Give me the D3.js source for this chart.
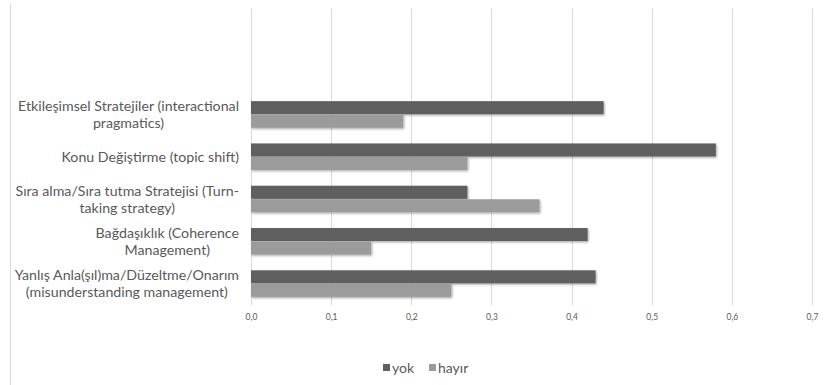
<!DOCTYPE html>
<html>
<head>
<meta charset="utf-8">
<script src="https://cdn.jsdelivr.net/npm/d3@7"></script>
<style>
  html, body { margin: 0; padding: 0; background: #fff; }
  svg { display: block; }
</style>
</head>
<body>
<svg id="chart" width="832" height="385"></svg>
<script>
// Categories (top to bottom) with their wrapped label lines
const categories = [
  "Etkileşimsel Stratejiler (interactional pragmatics)",
  "Konu Değiştirme (topic shift)",
  "Sıra alma/Sıra tutma Stratejisi (Turn-taking strategy)",
  "Bağdaşıklık (Coherence Management)",
  "Yanlış Anla(şıl)ma/Düzeltme/Onarım (misunderstanding management)"
];
const labelLines = [
  ["Etkileşimsel Stratejiler (interactional", "pragmatics)"],
  ["Konu Değiştirme (topic shift)"],
  ["Sıra alma/Sıra tutma Stratejisi (Turn-", "taking strategy)"],
  ["Bağdaşıklık (Coherence", "Management)"],
  ["Yanlış Anla(şıl)ma/Düzeltme/Onarım", "(misunderstanding management)"]
];
const seriesNames = ["yok", "hayır"];
const yokValues   = [0.44, 0.58, 0.27, 0.42, 0.43];
const hayirValues = [0.19, 0.27, 0.36, 0.15, 0.25];
const tickValues  = [0, 0.1, 0.2, 0.3, 0.4, 0.5, 0.6, 0.7];
const seriesColors = ["#5f5f5f", "#9b9b9b"];

const svg = d3.select("#chart");
const textColor = "#595959";
const font = "Lato, 'Open Sans', sans-serif";

// Chart frame (left edge visible)
svg.append("line")
  .attr("x1", 10.5).attr("x2", 10.5)
  .attr("y1", 3).attr("y2", 385)
  .attr("stroke", "#d9d9d9").attr("stroke-width", 1);

const plotTop = 9, plotBottom = 305;
const x = d3.scaleLinear().domain([0, 0.7]).range([251, 812]);

// Seven slots share the plot height; the five categories fill the lower ones
const slot = (plotBottom - plotTop) / 7;
const y = d3.scaleBand()
  .domain(categories)
  .range([plotTop + 2 * slot, plotBottom])
  .paddingInner(0.36)
  .paddingOuter(0.18);
const ySeries = d3.scaleBand().domain(seriesNames).range([0, y.bandwidth()]);

// Shadow under the bars
const defs = svg.append("defs");
const f = defs.append("filter").attr("id", "shadow")
  .attr("x", "-5%").attr("y", "-30%").attr("width", "110%").attr("height", "170%");
f.append("feDropShadow")
  .attr("dx", 1).attr("dy", 1.2).attr("stdDeviation", 0.9)
  .attr("flood-color", "#000").attr("flood-opacity", 0.35);

// Vertical gridlines
svg.append("g")
  .selectAll("line")
  .data(tickValues)
  .join("line")
  .attr("x1", d => Math.round(x(d)) + 0.5)
  .attr("x2", d => Math.round(x(d)) + 0.5)
  .attr("y1", plotTop).attr("y2", plotBottom)
  .attr("stroke", "#d9d9d9").attr("stroke-width", 1);

// Bars
const rows = categories.map((c, i) => ({ cat: c, values: [yokValues[i], hayirValues[i]] }));
const groups = svg.append("g").selectAll("g")
  .data(rows)
  .join("g")
  .attr("transform", d => `translate(0,${y(d.cat)})`);
groups.selectAll("rect")
  .data(d => d.values.map((v, j) => ({ name: seriesNames[j], v, j })))
  .join("rect")
  .attr("x", x(0))
  .attr("y", d => ySeries(d.name))
  .attr("width", d => x(d.v) - x(0))
  .attr("height", ySeries.bandwidth() - 0.5)
  .attr("fill", d => seriesColors[d.j])
  .attr("filter", "url(#shadow)");

// Value axis labels
const xAxis = d3.axisBottom(x)
  .tickValues(tickValues)
  .tickSize(0)
  .tickPadding(9)
  .tickFormat(d => d3.format(".1f")(d).replace(".", ","));
const xg = svg.append("g")
  .attr("transform", `translate(0,${plotBottom})`)
  .call(xAxis);
xg.select(".domain").remove();
xg.selectAll("text")
  .attr("fill", textColor)
  .style("font-family", font)
  .style("font-size", "8.5px");

// Category labels: centred lines in a block right-aligned against the axis
const labelRight = 239;
const lineH = 17;
const labelG = svg.append("g")
  .style("font-family", font)
  .style("font-size", "14.2px")
  .attr("fill", textColor);
categories.forEach((c, i) => {
  const lines = labelLines[i];
  const cy = y(c) + y.bandwidth() / 2;
  const texts = lines.map((t, k) => labelG.append("text")
    .attr("y", cy + (k - (lines.length - 1) / 2) * lineH)
    .attr("dy", "0.35em")
    .attr("text-anchor", "middle")
    .text(t));
  const widths = texts.map(t => t.node().getComputedTextLength());
  const blockW = d3.max(widths);
  texts.forEach(t => t.attr("x", labelRight - blockW / 2));
});

// Legend
const legend = svg.append("g")
  .style("font-family", font)
  .style("font-size", "14px")
  .attr("fill", textColor);
const legendX = [383, 429];
seriesNames.forEach((n, j) => {
  legend.append("rect")
    .attr("x", legendX[j]).attr("y", 364)
    .attr("width", 7).attr("height", 7)
    .attr("fill", seriesColors[j]);
  legend.append("text")
    .attr("x", legendX[j] + 9).attr("y", 368)
    .attr("dy", "0.35em")
    .text(n);
});
</script>
</body>
</html>
